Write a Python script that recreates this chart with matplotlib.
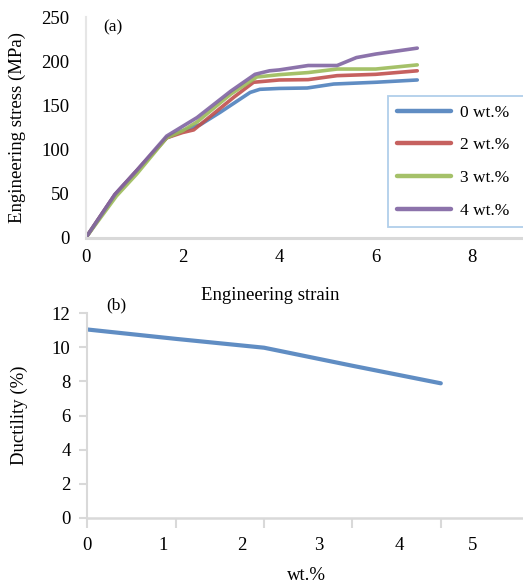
import matplotlib
matplotlib.use("Agg")
import matplotlib.pyplot as plt
from matplotlib.ticker import FixedLocator, NullFormatter

plt.rcParams['font.family'] = ['Liberation Serif', 'DejaVu Serif']

# ---- data: engineering stress-strain curves (panel a) ----
strain_0 = [0, 0.6, 1.67, 2.0, 2.37, 2.78, 3.4, 3.6, 4.0, 4.58, 5.13, 6.0, 6.86]
stress_0 = [0, 48.6, 113, 121, 128, 142, 164.5, 168, 169, 169.5, 174, 176, 178.6]

strain_2 = [0, 0.6, 1.67, 2.0, 2.23, 2.5, 3.06, 3.47, 4.0, 4.6, 5.2, 6.0, 6.86]
stress_2 = [0, 48.6, 113, 119, 122, 134, 159, 176, 178.6, 179, 183.5, 185, 189]

strain_3 = [0, 0.63, 1.05, 1.67, 2.0, 2.3, 3.0, 3.54, 4.0, 4.6, 5.2, 6.0, 6.86]
stress_3 = [0, 47, 72, 113, 121, 131, 162.6, 182, 184.6, 187, 191, 191, 195.7]

strain_4 = [0, 0.6, 1.05, 1.67, 2.0, 2.3, 3.0, 3.5, 3.8, 4.0, 4.6, 5.2, 5.6, 6.0, 6.86]
stress_4 = [0, 49, 76, 115, 126, 136, 166, 185, 189, 190, 195, 195, 204, 208, 214.7]

series_labels = ["0 wt.%", "2 wt.%", "3 wt.%", "4 wt.%"]
series_colors = ["#4F81BD", "#C0504D", "#9BBB59", "#8064A2"]

x_ticks_a = [0, 2, 4, 6, 8]
y_ticks_a = [0, 50, 100, 150, 200, 250]

# ---- data: ductility (panel b) ----
wt_pos = [0, 1, 2, 3, 4]
ductility = [11.05, 10.5, 9.98, 8.92, 7.89]
x_labels_b = ["0", "1", "2", "3", "4", "5"]
x_label_pos_b = [0.0, 0.856, 1.746, 2.62, 3.535, 4.36]
y_ticks_b = [0, 2, 4, 6, 8, 10, 12]

W, H = 523, 585
fig = plt.figure(figsize=(W / 100, H / 100), dpi=100)

axis_gray = "#D9D9D9"
fs = 13.5

# ---------------- panel (a) ----------------
ax1 = fig.add_axes([86 / W, 1 - 237.5 / H, 1 - 86 / W, (237.5 - 17) / H])
data_a = [(strain_0, stress_0), (strain_2, stress_2), (strain_3, stress_3), (strain_4, stress_4)]
for (xs, ys), lab, col in zip(data_a, series_labels, series_colors):
    ax1.plot(xs, ys, color=col, lw=2.6, label=lab, solid_capstyle='round', alpha=0.9)
ax1.set_xlim(0, 9.05)
ax1.set_ylim(0, 250)
ax1.set_xticks(x_ticks_a)
ax1.set_yticks(y_ticks_a)
ax1.tick_params(length=0, labelsize=fs, pad=8)
ax1.tick_params(axis='y', pad=12)
for s in ["top", "right"]:
    ax1.spines[s].set_visible(False)
ax1.spines["left"].set_color("#E6E6E6")
ax1.spines["left"].set_linewidth(1.5)
ax1.spines["bottom"].set_color(axis_gray)
ax1.spines["bottom"].set_linewidth(2.2)
ax1.set_ylabel("Engineering stress (MPa)", fontsize=fs)
ax1.yaxis.set_label_coords(-60 / 437, 0.5)
ax1.text(17 / 437, 0.955, "(a)", transform=ax1.transAxes, fontsize=12.5, va='center', ha='left')
fig.text(270 / W, 1 - 296 / H, "Engineering strain", fontsize=fs, ha='center', va='center')

leg_w = (528 - 388) / 437
leg_h = (226.7 - 96) / 220.5
leg_top = (237.5 - 96) / 220.5
leg = ax1.legend(loc='upper left', bbox_to_anchor=((388 - 86) / 437, leg_top - leg_h, leg_w, leg_h),
                 mode='expand', frameon=True, fontsize=12.5, handlelength=3.1, handletextpad=0.55,
                 labelspacing=0.95, borderpad=0.5, fancybox=False, borderaxespad=0)
leg.get_frame().set_edgecolor("#9DC3E6")
leg.get_frame().set_linewidth(1.3)
for lh in leg.get_lines():
    lh.set_linewidth(3.2)

# ---------------- panel (b) ----------------
ax2 = fig.add_axes([87.3 / W, 1 - 517.7 / H, 1 - 87.3 / W, (517.7 - 313.3) / H])
ax2.plot(wt_pos, ductility, color="#4F81BD", lw=3.0, solid_capstyle='round', alpha=0.9)
ax2.set_xlim(0, 4.93)
ax2.set_ylim(0, 12)
ax2.set_yticks(y_ticks_b)
ax2.xaxis.remove_overlapping_locs = False
ax2.xaxis.set_major_locator(FixedLocator(wt_pos))
ax2.xaxis.set_major_formatter(NullFormatter())
ax2.xaxis.set_minor_locator(FixedLocator(x_label_pos_b))
ax2.set_xticklabels(x_labels_b, minor=True)
ax2.tick_params(axis='x', which='major', length=7, color=axis_gray, width=1.5, direction='out')
ax2.tick_params(axis='x', which='minor', length=0, labelsize=fs, pad=14)
ax2.tick_params(axis='y', length=6, color=axis_gray, width=1.5, labelsize=fs, pad=6)
for s in ["top", "right"]:
    ax2.spines[s].set_visible(False)
ax2.spines["left"].set_color(axis_gray)
ax2.spines["left"].set_linewidth(1.5)
ax2.spines["bottom"].set_color(axis_gray)
ax2.spines["bottom"].set_linewidth(1.8)
ax2.set_ylabel("Ductility (%)", fontsize=fs)
ax2.yaxis.set_label_coords(-59 / 436, 0.5)
ax2.text(19 / 436, 1.04, "(b)", transform=ax2.transAxes, fontsize=12.5, va='center', ha='left')
fig.text(306 / W, 1 - 576 / H, "wt.%", fontsize=fs, ha='center', va='center')

fig.savefig("out.png", dpi=100)
